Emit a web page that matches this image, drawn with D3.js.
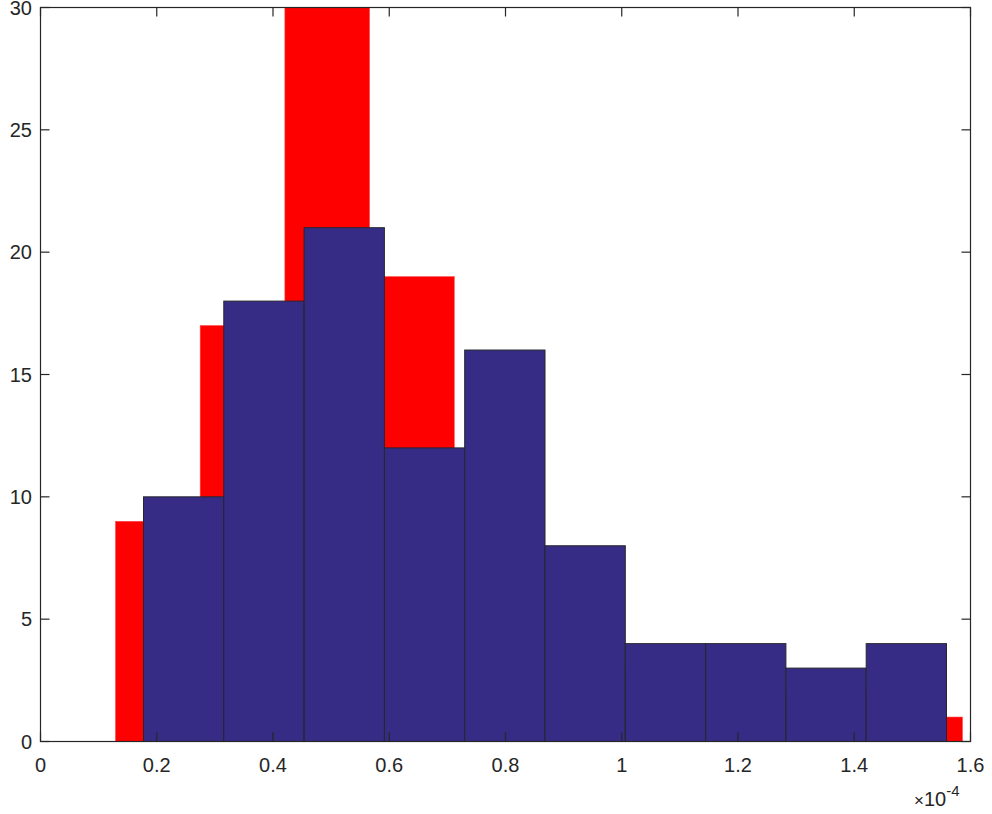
<!DOCTYPE html>
<html><head><meta charset="utf-8">
<script src="https://cdn.jsdelivr.net/npm/d3@7"></script>
<style>body{margin:0;background:#fff;} text{font-family:"Liberation Sans",Arial,Helvetica,sans-serif;}</style>
</head><body>
<svg id="c" width="992" height="814"></svg>
<script>
// data (x in units of 1e-4)
const redStart = 0.1290, redWidth = 0.14572;
const redCounts = [9, 17, 30, 19, 10, 7, 3, 2, 2, 1];
const blueStart = 0.1772, blueWidth = 0.13815;
const blueCounts = [10, 18, 21, 12, 16, 8, 4, 4, 3, 4];
const xTicks = [0, 0.2, 0.4, 0.6, 0.8, 1, 1.2, 1.4, 1.6];
const yTicks = [0, 5, 10, 15, 20, 25, 30];

const svg = d3.select("#c");
const L = 40.5, R = 970.5, T = 7.5, B = 741.5;
const x = d3.scaleLinear().domain([0, 1.6]).range([L, R]);
const y = d3.scaleLinear().domain([0, 30]).range([B, T]);

svg.append("clipPath").attr("id","clip").append("rect")
  .attr("x", L).attr("y", T).attr("width", R-L).attr("height", B-T);
const g = svg.append("g").attr("clip-path","url(#clip)");

const red = redCounts.map((c,i)=>({x0: redStart+i*redWidth, x1: redStart+(i+1)*redWidth, c}));
const blue = blueCounts.map((c,i)=>({x0: blueStart+i*blueWidth, x1: blueStart+(i+1)*blueWidth, c}));

g.selectAll(".r").data(red).join("rect")
  .attr("x", d=>x(d.x0)).attr("width", d=>x(d.x1)-x(d.x0))
  .attr("y", d=>y(d.c)).attr("height", d=>y(0)-y(d.c))
  .attr("fill", "#ff0000").attr("stroke", "#ff4a4a").attr("stroke-width", 0.6);

g.selectAll(".b").data(blue).join("rect")
  .attr("x", d=>x(d.x0)).attr("width", d=>x(d.x1)-x(d.x0))
  .attr("y", d=>y(d.c)).attr("height", d=>y(0)-y(d.c))
  .attr("fill", "#362c85").attr("stroke", "#26262e").attr("stroke-width", 1);

// box
svg.append("rect").attr("x", L).attr("y", T).attr("width", R-L).attr("height", B-T)
  .attr("fill","none").attr("stroke","#262626").attr("stroke-width",1.2);

const col = "#262626";
// x ticks
xTicks.forEach(t=>{
  const px = x(t);
  svg.append("line").attr("x1",px).attr("x2",px).attr("y1",B).attr("y2",B-9).attr("stroke",col).attr("stroke-width",1.2);
  svg.append("line").attr("x1",px).attr("x2",px).attr("y1",T).attr("y2",T+9).attr("stroke",col).attr("stroke-width",1.2);
  svg.append("text").attr("x",px).attr("y",772).attr("text-anchor","middle")
    .attr("font-size",20).attr("fill",col).text(d3.format("~g")(t));
});
// y ticks
yTicks.forEach(t=>{
  const py = y(t);
  svg.append("line").attr("x1",L).attr("x2",L+9).attr("y1",py).attr("y2",py).attr("stroke",col).attr("stroke-width",1.2);
  svg.append("line").attr("x1",R).attr("x2",R-9).attr("y1",py).attr("y2",py).attr("stroke",col).attr("stroke-width",1.2);
  svg.append("text").attr("x",32).attr("y",py+7).attr("text-anchor","end")
    .attr("font-size",20).attr("fill",col).text(t);
});
// exponent label
const ex = svg.append("text").attr("x",914).attr("y",806).attr("font-size",20).attr("fill",col);
ex.append("tspan").attr("font-size",17).text("\u00d7");
ex.append("tspan").text("10");
ex.append("tspan").attr("font-size",15).attr("dy",-10).text("-4");
</script>
</body></html>
